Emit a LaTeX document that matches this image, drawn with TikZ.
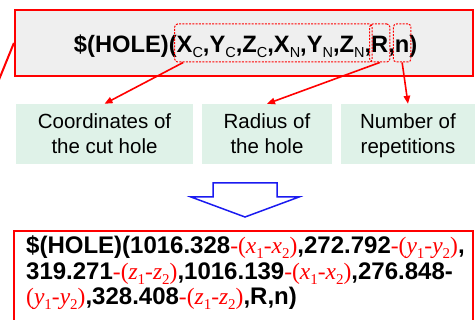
\documentclass[tikz,border=0pt]{standalone}
\usepackage{fontspec}
\setmainfont{Liberation Sans}
\newfontfamily\tmsfont{Liberation Serif}
\usetikzlibrary{arrows.meta,calc,fit}
\definecolor{boxgray}{HTML}{EFEFEF}
\definecolor{mint}{HTML}{DFF2E8}
\definecolor{arrblue}{HTML}{1A1AF0}
\newcommand\sbsc[1]{\raisebox{-4.5pt}{\fontsize{14.5pt}{14.5pt}\selectfont\mdseries #1}}
\newcommand\sbsr[1]{\raisebox{-5pt}{\fontsize{15pt}{15pt}\selectfont #1}}
\newcommand\rdm[1]{{\color{red}\fontsize{23.5pt}{23.5pt}\selectfont\tmsfont\mdseries -(\textit{#1}\sbsr{1}-\textit{#1}\sbsr{2})}}
\newcommand\rdp[1]{{\color{red}\fontsize{23.5pt}{23.5pt}\selectfont\tmsfont\mdseries (\textit{#1}\sbsr{1}-\textit{#1}\sbsr{2})}}
\tikzset{
  ttxt/.style={inner sep=0pt, outer sep=0pt, anchor=base west, font=\fontsize{23.7pt}{26pt}\selectfont\bfseries},
  btxt/.style={inner sep=0pt, anchor=base west, font=\fontsize{24pt}{25pt}\selectfont\bfseries},
  gtxt/.style={inner sep=0pt, anchor=base, font=\fontsize{20.5pt}{24pt}\selectfont},
  gbox/.style={fill=mint, draw=none, inner sep=0pt},
  dbox/.style={draw=red, dash pattern=on 2pt off 1.3pt, line width=1pt, rounded corners=3pt, inner sep=0pt},
  rarr/.style={draw=red, line width=1.6pt, -{Triangle[length=8pt,width=6.5pt]}},
}
\begin{document}
\begin{tikzpicture}[x=1pt,y=-1pt]
\useasboundingbox (0,0) rectangle (475,320);
\clip (0,0) rectangle (475,320);
% top box
\node[draw=red, line width=2.2pt, fill=boxgray, minimum width=458pt, minimum height=66pt, inner sep=0pt] (top) at (244,43) {};
\coordinate (leftend) at (-4,87);
\draw[red, line width=2pt] (top.west) -- (leftend);
% top text as chain
\node[ttxt] (t0) at (74,53) {\$(HOLE)(};
\node[ttxt] (t1) at (t0.base east) {X\sbsc{C},Y\sbsc{C},Z\sbsc{C},X\sbsc{N},Y\sbsc{N},Z\sbsc{N},};
\node[ttxt] (t2) at (t1.base east) {R};
\node[ttxt] (t3) at (t2.base east) {,};
\node[ttxt] (t4) at (t3.base east) {n};
\node[ttxt] (t5) at (t4.base east) {)};
\coordinate (ytop) at (0,24);
\coordinate (ybot) at (0,62);
\node[dbox, fit={($(t1.west |- ytop)+(-2,0)$) ($(t1.east |- ybot)+(1,0)$)}] (cbox) {};
\node[dbox, fit={($(t2.west |- ytop)+(-1.5,0)$) ($(t2.east |- ybot)+(1.5,0)$)}] (rbox) {};
\node[dbox, fit={($(t4.west |- ytop)+(-1.5,0)$) ($(t4.east |- ybot)+(1.5,0)$)}] (nbox) {};
% green boxes
\node[gbox, minimum width=177pt, minimum height=60pt] (b1) at (104.5,134) {};
\node[gbox, minimum width=130pt, minimum height=60pt] (b2) at (267,134) {};
\node[gbox, minimum width=136pt, minimum height=60pt] (b3) at (409,134) {};
\node[gtxt] (g11) at (104.5,129) {Coordinates of};
\node[gtxt] (g12) at (104.5,153.5) {the cut hole};
\node[gtxt] (g21) at (267,129) {Radius of};
\node[gtxt] (g22) at (267,153.5) {the hole};
\node[gtxt] (g31) at (408,129) {Number of};
\node[gtxt] (g32) at (408,153.5) {repetitions};
% arrows
\draw[rarr] ($(cbox.south west)+(9,0)$) -- (b1.north);
\draw[rarr] (rbox.south) -- (b2.north);
\draw[rarr] (nbox.south) -- (b3.north -| 408,0);
% blue hollow arrow
\draw[arrblue, line width=1.5pt, fill=white, line join=miter]
  (213,183) -- (277,183) -- (277,197) -- (299,197) -- (245,217) -- (191,197) -- (213,197) -- cycle;
% bottom box (its lower edge lies below the picture)
\draw[red, line width=2.2pt, fill=white] (14,400) -- (14,231) -- (473,231) -- (473,400);
\node[btxt] (l1) at (26,254) {\$(HOLE)(1016.328\rdm{x},272.792\rdm{y},};
\node[btxt] (l2) at (26,279.5) {319.271\rdm{z},1016.139\rdm{x},276.848-};
\node[btxt] (l3) at (26,305) {\rdp{y},328.408\rdm{z},R,n)};
\end{tikzpicture}
\end{document}
